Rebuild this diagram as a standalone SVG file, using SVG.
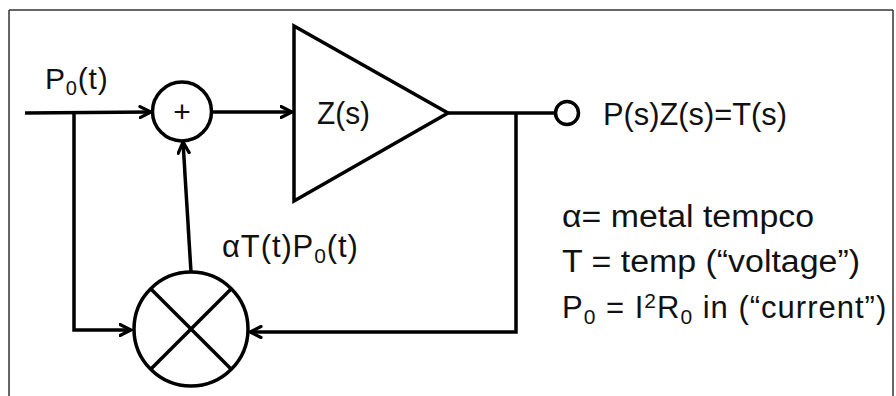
<svg xmlns="http://www.w3.org/2000/svg" width="896" height="396" viewBox="0 0 896 396">
<style>
.ln{fill:none;stroke:#000;stroke-width:3.5;stroke-linejoin:miter}
.sh{fill:#fff;stroke:#000;stroke-width:3.5}
.tx{font-family:"Liberation Sans",Arial,sans-serif;font-size:31px;fill:#111}
.sub{font-size:21px}
.frame{stroke-width:1.5;stroke:#333}
</style>
<defs>
<marker id="arr" viewBox="0 0 14 14" refX="12.5" refY="7" markerWidth="14" markerHeight="14" markerUnits="userSpaceOnUse" orient="auto">
<path d="M1.5,1.5 L12.5,7 L1.5,12.5" fill="none" stroke="#000" stroke-width="3.2" stroke-linecap="round" stroke-linejoin="miter"/>
</marker>
</defs>
<rect x="0" y="0" width="896" height="396" fill="#fff"/>
<g id="frame">
<line x1="9" y1="10" x2="893" y2="10" stroke="#666" stroke-width="2.2"/>
<line class="frame" x1="9" y1="10" x2="9" y2="396"/>
<line class="frame" x1="893" y1="10" x2="893" y2="396"/>
</g>
<g id="connectors">
<path class="ln" d="M25,113 L151,112" marker-end="url(#arr)"/>
<path class="ln" d="M74,113 L74,330 L131,330" marker-end="url(#arr)"/>
<path class="ln" d="M212,112 L292,112" marker-end="url(#arr)"/>
<path class="ln" d="M191,272 L183,142" marker-end="url(#arr)"/>
<path class="ln" d="M448,113 L556,113"/>
<path class="ln" d="M516,113 L516,332 L250,332" marker-end="url(#arr)"/>
</g>
<g id="sum">
<circle class="sh" cx="182" cy="111.5" r="29.5"/>
<text class="tx" x="182" y="122" text-anchor="middle" style="font-size:30px">+</text>
</g>
<g id="amp">
<polygon class="sh" points="294,26 294,201 448,113"/>
<text class="tx" x="317" y="124" textLength="53" lengthAdjust="spacingAndGlyphs">Z(s)</text>
</g>
<g id="mult">
<circle class="sh" cx="191" cy="329" r="57"/>
<line class="ln" x1="150.7" y1="288.7" x2="231.3" y2="369.3"/>
<line class="ln" x1="150.7" y1="369.3" x2="231.3" y2="288.7"/>
</g>
<g id="out">
<circle class="sh" cx="567" cy="113" r="11.5"/>
<text class="tx" x="603" y="125" textLength="184" lengthAdjust="spacingAndGlyphs">P(s)Z(s)=T(s)</text>
</g>
<g id="labels">
<text class="tx" x="45" y="89" style="font-size:30px;letter-spacing:0.8px">P<tspan class="sub" dy="6" style="font-size:20px">0</tspan><tspan dy="-6">(t)</tspan></text>
<text class="tx" x="222" y="257" style="letter-spacing:0.9px">αT(t)P<tspan class="sub" dy="6">0</tspan><tspan dy="-6">(t)</tspan></text>
<text class="tx" x="562" y="227" textLength="252" lengthAdjust="spacingAndGlyphs">α= metal tempco</text>
<text class="tx" x="562" y="272" textLength="298" lengthAdjust="spacingAndGlyphs">T = temp (“voltage”)</text>
<text class="tx" x="562" y="318" style="letter-spacing:1px">P<tspan class="sub" dy="6">0</tspan><tspan dy="-6"> = I</tspan><tspan class="sub" dy="-10">2</tspan><tspan dy="10">R</tspan><tspan class="sub" dy="6">0</tspan><tspan dy="-6"> in (“current”)</tspan></text>
</g>
</svg>
